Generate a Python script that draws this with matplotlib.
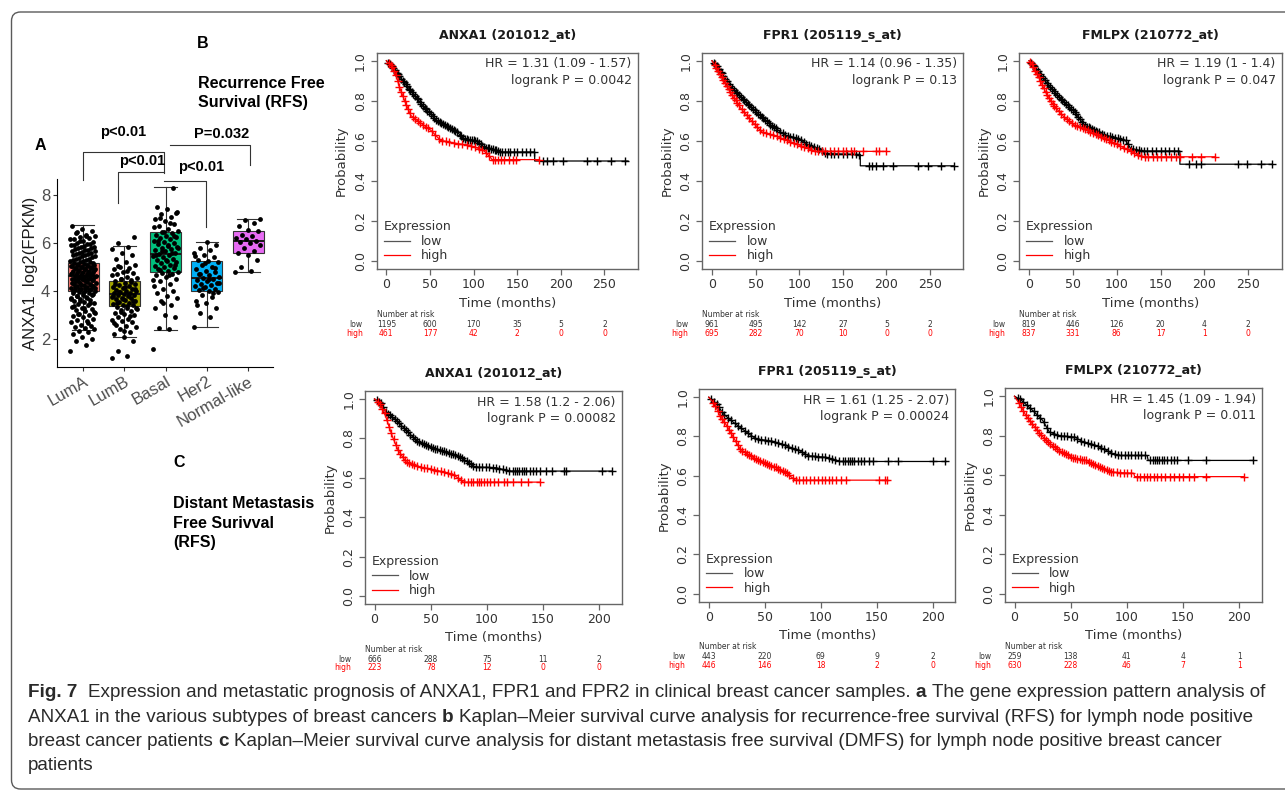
import numpy as np
import matplotlib
matplotlib.use('Agg')
import matplotlib.pyplot as plt
from matplotlib import transforms, font_manager
from matplotlib.patches import FancyBboxPatch
from matplotlib.lines import Line2D

# ---------------- data: panel A (box plot) ----------------
subtypes = ['LumA', 'LumB', 'Basal', 'Her2', 'Normal-like']
box_colors = ['#F8766D', '#A3A500', '#00BF7D', '#00B0F6', '#E76BF3']
q1 = [4.01, 3.39, 4.78, 4.01, 5.60]
med = [4.62, 3.86, 5.53, 4.53, 6.08]
q3 = [5.15, 4.42, 6.44, 5.26, 6.49]
whislo = [2.37, 2.07, 2.37, 2.51, 4.79]
whishi = [6.75, 5.87, 8.35, 6.04, 6.99]

lumA_pts = [1.5, 1.75, 1.9, 2.0, 2.1, 2.2, 2.3, 2.35, 2.4, 2.45, 2.5, 2.55, 2.6, 2.7, 2.75, 2.8, 2.85,
            2.9, 2.95, 3.0, 3.05, 3.1, 3.15, 3.2, 3.25, 3.3, 3.35, 3.4, 3.45, 3.5, 3.55, 3.6, 3.62, 3.68,
            3.7, 3.75, 3.8, 3.82, 3.85, 3.9, 3.93, 3.95, 4.0, 4.02, 4.05, 4.08, 4.1, 4.12, 4.15, 4.2,
            4.22, 4.25, 4.28, 4.3, 4.33, 4.35, 4.4, 4.42, 4.45, 4.48, 4.5, 4.52, 4.55, 4.58, 4.6, 4.62,
            4.65, 4.68, 4.7, 4.72, 4.75, 4.78, 4.8, 4.83, 4.85, 4.88, 4.9, 4.92, 4.95, 4.98, 5.0, 5.03,
            5.05, 5.08, 5.1, 5.12, 5.15, 5.2, 5.22, 5.25, 5.3, 5.35, 5.4, 5.45, 5.5, 5.55, 5.6, 5.65,
            5.7, 5.75, 5.8, 5.85, 5.9, 5.95, 6.0, 6.05, 6.1, 6.15, 6.2, 6.25, 6.3, 6.35, 6.4, 6.5, 6.6, 6.7,
            2.65, 3.02, 3.12, 3.28, 3.38, 3.48, 3.58, 3.66, 3.72, 3.78, 3.87, 3.91, 3.98, 4.03, 4.07, 4.11,
            4.14, 4.18, 4.24, 4.27, 4.32, 4.38, 4.41, 4.44, 4.47, 4.51, 4.54, 4.57, 4.61, 4.64, 4.67, 4.71,
            4.74, 4.77, 4.81, 4.84, 4.87, 4.91, 4.94, 4.97, 5.02, 5.06, 5.09, 5.13, 5.18, 5.24, 5.28, 5.33,
            5.38, 5.44, 5.48, 5.53, 5.58, 5.63, 5.68, 5.73, 5.78, 5.83, 5.88, 5.93, 5.98, 6.08, 6.18, 6.28, 6.45]
lumB_pts = [1.2, 1.3, 1.5, 1.9, 2.1, 2.2, 2.3, 2.4, 2.5, 2.55, 2.6, 2.7, 2.75, 2.8, 2.85, 2.9, 3.0,
            3.05, 3.1, 3.15, 3.2, 3.25, 3.3, 3.35, 3.4, 3.42, 3.45, 3.5, 3.55, 3.6, 3.62, 3.65, 3.7,
            3.72, 3.75, 3.8, 3.82, 3.85, 3.88, 3.9, 3.92, 3.95, 4.0, 4.02, 4.05, 4.1, 4.12, 4.15, 4.2,
            4.25, 4.3, 4.35, 4.4, 4.45, 4.5, 4.55, 4.6, 4.7, 4.75, 4.8, 4.9, 4.95, 5.0, 5.1, 5.2, 5.35,
            5.5, 5.6, 5.75, 5.85, 6.0, 6.25,
            2.35, 2.65, 2.95, 3.12, 3.28, 3.38, 3.48, 3.58, 3.68, 3.78, 3.86, 3.97, 4.07, 4.18, 4.28, 4.38,
            4.48, 4.65, 4.85, 5.05]
basal_pts = [1.6, 2.4, 2.45, 2.9, 3.0, 3.3, 3.4, 3.6, 3.7, 3.8, 3.9, 4.0, 4.1, 4.2, 4.3, 4.4, 4.5,
             4.6, 4.65, 4.7, 4.75, 4.8, 4.85, 4.9, 4.95, 5.0, 5.05, 5.1, 5.15, 5.2, 5.25, 5.3, 5.35,
             5.4, 5.45, 5.5, 5.55, 5.6, 5.65, 5.7, 5.75, 5.8, 5.85, 5.9, 5.95, 6.0, 6.05, 6.1, 6.15,
             6.2, 6.25, 6.3, 6.35, 6.4, 6.45, 6.5, 6.6, 6.7, 6.8, 6.9, 7.0, 7.1, 7.2, 7.3, 7.4, 7.5, 8.3,
             3.5, 4.45, 4.68, 4.88, 5.08, 5.28, 5.48, 5.58, 5.68, 5.78, 5.88, 6.08, 6.28, 6.48, 6.65, 6.85,
             7.05, 7.25]
her2_pts = [2.5, 2.9, 3.1, 3.3, 3.5, 3.6, 3.75, 3.85, 3.95, 4.0, 4.05, 4.1, 4.15, 4.2, 4.25, 4.3,
            4.35, 4.4, 4.45, 4.5, 4.55, 4.6, 4.65, 4.7, 4.8, 4.85, 4.9, 5.0, 5.1, 5.2, 5.25, 5.3, 5.4,
            5.5, 5.6, 5.7, 5.8, 5.9, 6.05, 3.4, 3.9, 4.12, 4.32, 4.52, 4.72, 4.95, 5.15, 5.45]
normal_pts = [4.8, 4.82, 5.0, 5.3, 5.5, 5.6, 5.65, 5.8, 5.9, 6.0, 6.05, 6.1, 6.15, 6.2, 6.3, 6.35,
              6.5, 6.55, 6.7, 6.85, 6.95, 7.0]
group_pts = [lumA_pts, lumB_pts, basal_pts, her2_pts, normal_pts]

sig_labels = ['p<0.01', 'p<0.01', 'p<0.01', 'P=0.032']

# ---------------- data: Kaplan-Meier panels ----------------
km_titles = ['ANXA1 (201012_at)', 'FPR1 (205119_s_at)', 'FMLPX (210772_at)',
             'ANXA1 (201012_at)', 'FPR1 (205119_s_at)', 'FMLPX (210772_at)']
hr_text = ['HR = 1.31 (1.09 - 1.57)', 'HR = 1.14 (0.96 - 1.35)', 'HR = 1.19 (1 - 1.4)',
           'HR = 1.58 (1.2 - 2.06)', 'HR = 1.61 (1.25 - 2.07)', 'HR = 1.45 (1.09 - 1.94)']
p_text = ['logrank P = 0.0042', 'logrank P = 0.13', 'logrank P = 0.047',
          'logrank P = 0.00082', 'logrank P = 0.00024', 'logrank P = 0.011']
risk_times_rfs = [0, 50, 100, 150, 200, 250]
risk_times_dmfs = [0, 50, 100, 150, 200]
risk_low = [[1195, 600, 170, 35, 5, 2], [961, 495, 142, 27, 5, 2], [819, 446, 126, 20, 4, 2],
            [666, 288, 75, 11, 2], [443, 220, 69, 9, 2], [259, 138, 41, 4, 1]]
risk_high = [[461, 177, 42, 2, 0, 0], [695, 282, 70, 10, 0, 0], [837, 331, 86, 17, 1, 0],
             [223, 78, 12, 0, 0], [446, 146, 18, 2, 0], [630, 228, 46, 7, 1]]

p1_low_t = [0, 9, 17, 28, 43, 58, 81, 89, 104, 111, 126, 130, 170, 170, 277]
p1_low_s = [1.0, 0.96, 0.91, 0.85, 0.77, 0.70, 0.645, 0.61, 0.60, 0.57, 0.554, 0.545, 0.545, 0.50, 0.50]
p1_low_c = [2, 4, 6, 8, 10, 12, 13, 15, 17, 19, 20, 22, 24, 26, 27, 29, 31, 33, 35, 36, 38, 40, 42, 44, 45,
            47, 49, 51, 53, 55, 57, 59, 61, 63, 65, 67, 69, 71, 73, 75, 77, 79, 81, 84, 86, 88, 90, 92, 94,
            96, 98, 100, 102, 104, 106, 108, 110, 112, 114, 116, 118, 120, 122, 124, 126, 128, 130, 133,
            136, 139, 142, 146, 150, 155, 160, 165, 169, 180, 184, 191, 203, 230, 241, 258, 274]
p1_high_t = [0, 7.5, 11, 15, 21, 28, 36, 51, 62, 81, 96, 111, 119, 121, 175]
p1_high_s = [1.0, 0.967, 0.93, 0.868, 0.80, 0.727, 0.70, 0.653, 0.603, 0.587, 0.578, 0.554, 0.52, 0.507, 0.507]
p1_high_c = [3, 5, 7, 9, 11, 13, 15, 17, 19, 21, 23, 25, 27, 30, 33, 36, 39, 42, 45, 48, 52, 56, 60, 64, 68,
             72, 77, 82, 87, 92, 97, 102, 106, 110, 114, 118, 122, 125, 128, 131, 135, 140, 145, 149, 175]

p2_low_t = [0, 6.6, 14, 22, 37.5, 53, 68, 84, 99, 111, 122, 130, 170, 170, 277]
p2_low_s = [1.0, 0.97, 0.917, 0.868, 0.80, 0.736, 0.678, 0.628, 0.612, 0.579, 0.562, 0.537, 0.532, 0.476, 0.476]
p2_low_c = [2, 4, 6, 8, 10, 11, 13, 15, 17, 19, 21, 23, 25, 27, 29, 31, 33, 35, 37, 39, 41, 43, 45, 47, 49,
            51, 53, 55, 57, 59, 61, 63, 65, 67, 69, 71, 73, 75, 78, 81, 84, 87, 90, 93, 96, 99, 102, 105,
            108, 111, 114, 117, 120, 123, 126, 129, 132, 136, 140, 145, 150, 155, 160, 165, 169, 180, 184,
            188, 196, 207, 236, 248, 263, 277]
p2_high_t = [0, 4.6, 12, 22, 33.6, 45, 57, 76, 95, 111, 119, 199]
p2_high_s = [1.0, 0.967, 0.909, 0.835, 0.76, 0.702, 0.645, 0.62, 0.587, 0.562, 0.548, 0.548]
p2_high_c = [3, 5, 7, 9, 11, 13, 15, 17, 19, 21, 23, 25, 27, 29, 31, 34, 37, 40, 43, 46, 49, 52, 55, 58, 62,
             66, 70, 74, 78, 82, 86, 90, 94, 98, 102, 106, 110, 114, 118, 122, 126, 130, 135, 140, 145,
             150, 154, 159, 163, 173, 188, 192, 199]

p3_low_t = [0, 7, 15, 24.5, 36, 52, 63, 75, 87, 98, 110, 116, 129, 172, 172, 277]
p3_low_s = [1.0, 0.967, 0.917, 0.868, 0.81, 0.744, 0.678, 0.653, 0.628, 0.617, 0.603, 0.562, 0.55, 0.55, 0.484, 0.484]
p3_low_c = [2, 4, 6, 8, 10, 12, 14, 16, 18, 20, 22, 24, 26, 28, 30, 32, 34, 36, 38, 40, 42, 44, 46, 48, 50,
            52, 54, 56, 58, 60, 62, 64, 66, 68, 70, 72, 74, 76, 78, 80, 83, 86, 89, 92, 95, 98, 101, 104,
            107, 110, 113, 116, 119, 122, 125, 128, 131, 135, 140, 145, 150, 155, 160, 165, 170, 182, 190,
            196, 238, 249, 265, 277]
p3_high_t = [0, 3, 11, 19, 28, 40, 52, 67, 83, 98, 114, 129, 212]
p3_high_s = [1.0, 0.983, 0.917, 0.843, 0.777, 0.719, 0.678, 0.653, 0.62, 0.587, 0.554, 0.521, 0.521]
p3_high_c = [1, 3, 5, 7, 9, 11, 13, 15, 17, 19, 21, 23, 25, 27, 29, 31, 34, 37, 40, 43, 46, 49, 52, 55, 58,
             61, 64, 67, 70, 73, 76, 79, 82, 85, 88, 91, 94, 97, 100, 104, 108, 112, 116, 120, 124, 128,
             132, 136, 141, 146, 151, 156, 162, 168, 172, 186, 196, 212]

p4_low_t = [0, 6, 10, 19, 28, 37, 49, 64, 76, 85, 89, 108, 117, 120, 211]
p4_low_s = [1.0, 0.978, 0.935, 0.893, 0.842, 0.79, 0.757, 0.731, 0.706, 0.672, 0.655, 0.651, 0.638, 0.634, 0.634]
p4_low_c = [2, 4, 6, 8, 10, 12, 14, 16, 18, 20, 22, 24, 26, 28, 30, 32, 34, 36, 38, 40, 42, 44, 46, 48, 50,
            52, 54, 56, 58, 60, 62, 64, 66, 68, 70, 72, 74, 76, 78, 80, 82, 84, 86, 88, 90, 93, 96, 99,
            102, 105, 108, 111, 114, 117, 120, 123, 125, 127, 129, 131, 133, 135, 138, 141, 144, 147, 153,
            158, 169, 170, 202, 211]
p4_high_t = [0, 4.5, 9, 12, 16, 21, 28, 40, 55, 70, 79, 147]
p4_high_s = [1.0, 0.978, 0.927, 0.876, 0.808, 0.74, 0.68, 0.655, 0.638, 0.617, 0.578, 0.578]
p4_high_c = [3, 5, 7, 9, 11, 13, 15, 17, 19, 21, 23, 25, 27, 29, 31, 33, 35, 38, 41, 44, 47, 50, 53, 56, 59,
             62, 65, 68, 71, 74, 77, 80, 83, 86, 88, 91, 93, 95, 97, 100, 103, 106, 110, 115, 118, 123,
             130, 137, 147]

p5_low_t = [0, 7, 13, 22, 34, 42.5, 57, 69, 81, 89, 105, 117, 212]
p5_low_s = [1.0, 0.966, 0.915, 0.872, 0.821, 0.787, 0.776, 0.753, 0.728, 0.702, 0.694, 0.673, 0.673]
p5_low_c = [2, 5, 7, 9, 12, 14, 17, 20, 23, 26, 29, 32, 35, 38, 41, 44, 47, 50, 53, 56, 59, 62, 65, 68, 71,
            74, 77, 80, 83, 86, 89, 92, 95, 98, 101, 104, 107, 110, 113, 116, 120, 122, 124, 126, 128,
            130, 133, 136, 139, 143, 147, 160, 169, 200, 211]
p5_high_t = [0, 5, 10, 16, 22, 28, 37, 48, 60, 69, 77, 159]
p5_high_s = [1.0, 0.966, 0.906, 0.855, 0.796, 0.736, 0.702, 0.668, 0.643, 0.617, 0.578, 0.578]
p5_high_c = [4, 6, 8, 10, 12, 14, 16, 18, 20, 22, 24, 26, 28, 30, 32, 34, 36, 38, 40, 42, 44, 46, 48, 50,
             52, 54, 56, 58, 60, 62, 64, 66, 68, 70, 72, 75, 78, 81, 84, 87, 90, 94, 98, 101, 104, 107,
             110, 114, 118, 123, 152, 157, 159]

p6_low_t = [0, 6, 16, 25, 31, 40, 54, 61, 76, 88, 94, 118, 119, 212]
p6_low_s = [1.0, 0.98, 0.929, 0.878, 0.819, 0.80, 0.793, 0.768, 0.742, 0.708, 0.70, 0.70, 0.675, 0.675]
p6_low_c = [3, 5, 8, 11, 14, 17, 20, 23, 26, 29, 32, 35, 38, 41, 44, 47, 50, 53, 56, 59, 62, 65, 68, 71, 74,
            77, 80, 83, 86, 89, 92, 95, 98, 101, 104, 107, 110, 113, 116, 121, 123, 125, 127, 129, 131,
            133, 136, 139, 142, 145, 154, 170, 212]
p6_high_t = [0, 6, 10, 19, 28, 40, 52, 64, 76, 87, 106, 107, 204]
p6_high_s = [1.0, 0.946, 0.903, 0.836, 0.776, 0.725, 0.688, 0.675, 0.641, 0.615, 0.61, 0.593, 0.593]
p6_high_c = [4, 6, 8, 10, 12, 14, 16, 18, 20, 22, 24, 26, 28, 30, 32, 34, 36, 38, 40, 42, 44, 46, 48, 50,
             52, 54, 56, 58, 60, 62, 64, 66, 68, 70, 72, 74, 76, 78, 80, 82, 84, 86, 88, 91, 94, 97, 100,
             104, 109, 112, 115, 118, 121, 124, 127, 130, 134, 138, 142, 146, 150, 155, 160, 170, 204]

caption_lines = [
    [("Fig. 7", True), ("  Expression and metastatic prognosis of ANXA1, FPR1 and FPR2 in clinical breast cancer samples. ", False),
     ("a", True), (" The gene expression pattern analysis of", False)],
    [("ANXA1 in the various subtypes of breast cancers ", False), ("b", True),
     (" Kaplan\u2013Meier survival curve analysis for recurrence-free survival (RFS) for lymph node positive", False)],
    [("breast cancer patients ", False), ("c", True),
     (" Kaplan\u2013Meier survival curve analysis for distant metastasis free survival (DMFS) for lymph node positive breast cancer", False)],
    [("patients", False)],
]

# ---------------- figure ----------------
W, H = 1285, 791
plt.rcParams['font.family'] = ['DejaVu Sans']
fig = plt.figure(figsize=(W / 100, H / 100), dpi=100)
fig.patch.set_facecolor('white')


def rect(l, t, r, b):
    return [l / W, 1 - b / H, (r - l) / W, (b - t) / H]


def ftext(x, y, s, **kw):
    return fig.text(x / W, 1 - y / H, s, **kw)


frame = FancyBboxPatch((11.5, H - 789), 1400, 789 - 12, boxstyle='round,pad=0,rounding_size=9',
                       transform=transforms.IdentityTransform(), fill=False, ec='#5a5a5a', lw=1.0)
fig.add_artist(frame)

AR = 'Liberation Sans'

# ---------------- panel A ----------------
axA = fig.add_axes(rect(57, 179, 273, 367))
stats = [dict(label=s, q1=a, med=m, q3=b, whislo=lo, whishi=hi, fliers=[])
         for s, a, m, b, lo, hi in zip(subtypes, q1, med, q3, whislo, whishi)]
pos = np.arange(1, len(subtypes) + 1)
bp = axA.bxp(stats, positions=pos, widths=0.75, patch_artist=True, showfliers=False, capwidths=0.55,
             boxprops=dict(edgecolor='#333333', lw=0.8),
             medianprops=dict(color='#1a1a1a', lw=1.4),
             whiskerprops=dict(color='#333333', lw=0.8),
             capprops=dict(color='#333333', lw=0.8))
for patch, c in zip(bp['boxes'], box_colors):
    patch.set_facecolor(c)
for i, vals in enumerate(group_pts):
    n = len(vals)
    jit = ((np.arange(n) * 0.618034) % 1.0 - 0.5) * 0.62
    axA.scatter(pos[i] + jit, vals, s=12, color='black', lw=0, zorder=5)
axA.set_xlim(0.37, 5.6)
axA.set_ylim(0.83, 8.67)
axA.spines['top'].set_visible(False)
axA.spines['right'].set_visible(False)
axA.spines['left'].set_color('black')
axA.spines['bottom'].set_color('black')
axA.set_yticks([2, 4, 6, 8])
axA.set_xticks(pos)
axA.set_xticklabels(subtypes, rotation=30, ha='right', rotation_mode='anchor')
axA.tick_params(length=3, color='#333333', labelsize=12, labelcolor='#4d4d4d', pad=2)
for lab in axA.get_xticklabels() + axA.get_yticklabels():
    lab.set_family(AR)
axA.set_ylabel('ANXA1  log2(FPKM)', fontsize=12, family=AR, color='#1a1a1a', labelpad=2)

brackets = [
    (1.0, 2.95, 9.80, 8.62, 8.92, 1.98, 10.62),
    (1.85, 2.95, 8.96, 7.67, 8.96, 2.44, 9.40),
    (2.95, 3.98, 8.58, 8.58, 6.67, 3.86, 9.17),
    (3.10, 5.05, 10.10, 10.10, 9.25, 4.35, 10.56),
]
for (xl, xr, yt, yl, yr, tx, ty), lab in zip(brackets, sig_labels):
    axA.plot([xl, xl, xr, xr], [yl, yt, yt, yr], color='#333333', lw=0.8, clip_on=False)
    axA.text(tx, ty, lab, ha='center', va='center', fontsize=10.5, fontweight='bold', family=AR,
             clip_on=False)

ftext(40, 146, 'A', fontsize=11.5, fontweight='bold', family=AR, ha='center', va='center')
ftext(203, 43, 'B', fontsize=11.5, fontweight='bold', family=AR, ha='center', va='center')
ftext(198, 83, 'Recurrence Free', fontsize=11.5, fontweight='bold', family=AR, ha='left', va='center')
ftext(198, 102, 'Survival (RFS)', fontsize=11.5, fontweight='bold', family=AR, ha='left', va='center')
ftext(179, 463, 'C', fontsize=11.5, fontweight='bold', family=AR, ha='center', va='center')
for yy, s in zip([503, 523, 542], ['Distant Metastasis', 'Free Surivval', '(RFS)']):
    ftext(173, yy, s, fontsize=11.5, fontweight='bold', family=AR, ha='left', va='center')

# ---------------- KM panels ----------------
km_rects = [(376.7, 52.7, 637.7, 269.3), (702.3, 52.7, 963.3, 269.3), (1019.3, 52.7, 1281.7, 269.3),
            (365.0, 391.0, 621.7, 604.0), (699.3, 389.3, 955.0, 601.7), (1005.0, 388.3, 1261.7, 601.7)]
km_tmax = [277, 277, 277, 211.5, 211.5, 211.5]
km_curves = [
    (p1_low_t, p1_low_s, p1_low_c, p1_high_t, p1_high_s, p1_high_c),
    (p2_low_t, p2_low_s, p2_low_c, p2_high_t, p2_high_s, p2_high_c),
    (p3_low_t, p3_low_s, p3_low_c, p3_high_t, p3_high_s, p3_high_c),
    (p4_low_t, p4_low_s, p4_low_c, p4_high_t, p4_high_s, p4_high_c),
    (p5_low_t, p5_low_s, p5_low_c, p5_high_t, p5_high_s, p5_high_c),
    (p6_low_t, p6_low_s, p6_low_c, p6_high_t, p6_high_s, p6_high_c),
]
TXT = '#333333'
RED = '#ff0000'
for k in range(6):
    l, t, r, b = km_rects[k]
    ax = fig.add_axes(rect(l, t, r, b))
    lt, ls, lc, ht, hs, hc = km_curves[k]
    for tt, ss, cc, col in [(lt, ls, lc, 'black'), (ht, hs, hc, RED)]:
        ax.plot(tt, ss, color=col, lw=0.9)
        cy = np.interp(cc, tt, ss)
        ax.plot(cc, cy, ls='none', marker='+', ms=6, mew=1.0, color=col)
    tmax = km_tmax[k]
    ax.set_xlim(-0.04 * tmax, 1.04 * tmax)
    ax.set_ylim(-0.04, 1.04)
    rt = risk_times_rfs if k < 3 else risk_times_dmfs
    ax.set_xticks(rt)
    ax.set_yticks([0, 0.2, 0.4, 0.6, 0.8, 1.0])
    ax.set_yticklabels(['0.0', '0.2', '0.4', '0.6', '0.8', '1.0'])
    for sp in ax.spines.values():
        sp.set_color('#666666')
        sp.set_linewidth(1.0)
    ax.tick_params(length=4, width=0.9, color='#666666', labelsize=9, labelcolor=TXT)
    ax.tick_params(axis='x', pad=2.5)
    ax.tick_params(axis='y', pad=3, labelrotation=90)
    for lab in ax.get_yticklabels():
        lab.set_va('center')
    ax.set_title(km_titles[k], fontsize=9, fontweight='bold', color='#1a1a1a', pad=10)
    ftext((l + r) / 2, b + 34, 'Time (months)', fontsize=9.5, color=TXT, ha='center', va='center')
    ftext(l - 35, (t + b) / 2, 'Probability', fontsize=9.5, color=TXT, ha='center', va='center', rotation=90)
    ftext(r - 6, t + 11, hr_text[k], fontsize=9, color=TXT, ha='right', va='center')
    ftext(r - 6, t + 27.5, p_text[k], fontsize=9, color=TXT, ha='right', va='center')
    handles = [Line2D([], [], color='#555555', lw=0.9), Line2D([], [], color=RED, lw=0.9)]
    leg = ax.legend(handles, ['low', 'high'], title='Expression', loc='lower left',
                    bbox_to_anchor=(0.0, 0.0), frameon=False, fontsize=9, title_fontsize=9,
                    alignment='left', handlelength=2.1, handletextpad=0.9, labelspacing=0.12,
                    borderaxespad=0.35, borderpad=0.2)
    for tx in leg.get_texts():
        tx.set_color(TXT)
    leg.get_title().set_color(TXT)
    blend = transforms.blended_transform_factory(ax.transData, fig.transFigure)
    ftext(l, b + 45, 'Number at risk', fontsize=5.5, color=TXT, ha='left', va='center')
    ftext(l - 14, b + 55, 'low', fontsize=5.5, color=TXT, ha='right', va='center')
    ftext(l - 14, b + 64, 'high', fontsize=5.5, color=RED, ha='right', va='center')
    for tt, nl, nh in zip(rt, risk_low[k], risk_high[k]):
        ax.text(tt, 1 - (b + 55) / H, str(nl), transform=blend, fontsize=5.5, color=TXT,
                ha='center', va='center', clip_on=False)
        ax.text(tt, 1 - (b + 64) / H, str(nh), transform=blend, fontsize=5.5, color=RED,
                ha='center', va='center', clip_on=False)

# ---------------- caption ----------------
names = {f.name for f in font_manager.fontManager.ttflist}
cap_font = 'Liberation Sans Narrow' if 'Liberation Sans Narrow' in names else 'Liberation Sans'
renderer = fig.canvas.get_renderer()


def space_w(size, fw):
    a = fig.text(0, 0, 'x x', fontsize=size, fontweight=fw, family=cap_font)
    c = fig.text(0, 0, 'xx', fontsize=size, fontweight=fw, family=cap_font)
    w = a.get_window_extent(renderer).width - c.get_window_extent(renderer).width
    a.remove(); c.remove()
    return w


def draw_runs(x0, y, runs, size, keep=True):
    x = x0
    for txt, bold in runs:
        fw = 'bold' if bold else 'normal'
        lead = len(txt) - len(txt.lstrip(' '))
        trail = len(txt) - len(txt.rstrip(' '))
        sp = space_w(size, fw)
        x += lead * sp
        tobj = ftext(x, y, txt.strip(' '), fontsize=size, fontweight=fw, family=cap_font,
                     color='#2a2a2a', ha='left', va='baseline')
        x += tobj.get_window_extent(renderer).width + trail * sp
        if not keep:
            tobj.remove()
    return x - x0


x_left = 28
target_w = 1264 - x_left
w0 = draw_runs(x_left, 0, caption_lines[0], 13, keep=False)
cap_size = 13 * target_w / w0
for yb, runs in zip([697, 721.5, 746, 770.5], caption_lines):
    draw_runs(x_left, yb, runs, cap_size)

fig.savefig('out.png', dpi=100)
